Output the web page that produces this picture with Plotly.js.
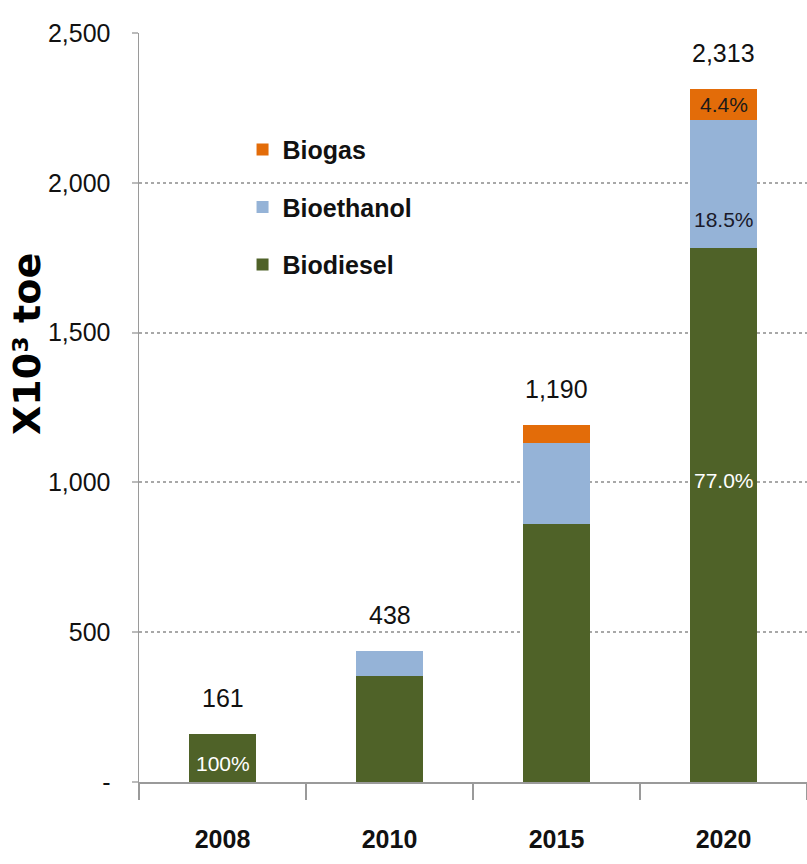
<!DOCTYPE html>
<html>
<head>
<meta charset="utf-8">
<script src="https://cdn.plot.ly/plotly-3.0.1.min.js"></script>
<style>html,body{margin:0;padding:0;background:#fff;}</style>
</head>
<body>
<div id="chart" style="width:807px;height:864px;"></div>
<script>
const years = ['2008', '2010', '2015', '2020'];
const biodiesel = [161, 355, 860, 1782];
const bioethanol = [0, 83, 272, 429];
const biogas = [0, 0, 58, 102];
const totalLabels = ['161', '438', '1,190', '2,313'];
const yTickVals = [0, 500, 1000, 1500, 2000, 2500];
const yTickText = ['-', '500', '1,000', '1,500', '2,000', '2,500'];
const pctLabels = [
  {i: 0, series: 'biodiesel', text: '100%'},
  {i: 3, series: 'biodiesel', text: '77.0%'},
  {i: 3, series: 'bioethanol', text: '18.5%'},
  {i: 3, series: 'biogas', text: '4.4%'}
];

const FONT = '"Liberation Sans", Arial, sans-serif';

const traces = [
  {type: 'bar', name: 'Biodiesel', x: years, y: biodiesel, marker: {color: '#4F6228'}, legendgroup: 'c', legendrank: 3, hoverinfo: 'skip'},
  {type: 'bar', name: 'Bioethanol', x: years, y: bioethanol, marker: {color: '#95B3D7'}, legendgroup: 'b', legendrank: 2, hoverinfo: 'skip'},
  {type: 'bar', name: 'Biogas', x: years, y: biogas, marker: {color: '#E36C09'}, legendgroup: 'a', legendrank: 1, hoverinfo: 'skip'}
];

const annotations = [];
years.forEach((yr, i) => {
  const tot = biodiesel[i] + bioethanol[i] + biogas[i];
  annotations.push({
    x: i, y: tot, xref: 'x', yref: 'y', text: totalLabels[i], showarrow: false,
    yanchor: 'bottom', yshift: 20, font: {family: FONT, size: 25, color: '#111'}
  });
});
const frac = {biodiesel: [0.39, 0, 0, 0.564], bioethanol: [0, 0, 0, 0.22], biogas: [0, 0, 0, 0.5]};
pctLabels.forEach(p => {
  let base = 0, seg = 0, col = '#fff';
  if (p.series === 'biodiesel') { base = 0; seg = biodiesel[p.i]; col = '#ffffff'; }
  if (p.series === 'bioethanol') { base = biodiesel[p.i]; seg = bioethanol[p.i]; col = '#1a1a2a'; }
  if (p.series === 'biogas') { base = biodiesel[p.i] + bioethanol[p.i]; seg = biogas[p.i]; col = '#1a1a1a'; }
  annotations.push({
    x: p.i, y: base + seg * frac[p.series][p.i], xref: 'x', yref: 'y', text: p.text,
    showarrow: false, font: {family: FONT, size: 21, color: col}
  });
});
annotations.push({
  xref: 'paper', yref: 'paper', x: -0.172, xshift: -21, y: 0.585, text: 'X10³ toe', textangle: -90,
  showarrow: false, font: {family: '"DejaVu Sans", Verdana, sans-serif', size: 38, color: '#000', weight: 'bold'}
});

const layout = {
  width: 807, height: 864,
  margin: {l: 139, r: 0, t: 33, b: 82},
  paper_bgcolor: '#fff', plot_bgcolor: '#fff',
  barmode: 'stack', bargap: 0.6,
  showlegend: true,
  legend: {
    x: 0.155, y: 0.875, xanchor: 'left', yanchor: 'top',
    traceorder: 'grouped', tracegroupgap: 22,
    font: {family: FONT, size: 25, color: '#111', weight: 'bold'},
    bgcolor: 'rgba(0,0,0,0)'
  },
  xaxis: {
    type: 'category', range: [-0.5, 3.5], showline: true, linecolor: '#9a9a9a', linewidth: 2,
    ticks: 'outside', tickson: 'boundaries', ticklen: 16, tickcolor: '#9a9a9a', tickwidth: 1.5,
    showgrid: false, zeroline: false,
    tickfont: {family: FONT, size: 25, color: '#111', weight: 'bold'},
    ticklabelstandoff: 34
  },
  yaxis: {
    range: [0, 2500], tickvals: yTickVals, ticktext: yTickText,
    showline: true, linecolor: '#9a9a9a', linewidth: 1.5,
    ticks: 'outside', ticklen: 6, tickcolor: '#bbbbbb', tickwidth: 2,
    showgrid: true, gridcolor: '#a8a8a8', griddash: 'dot', gridwidth: 2,
    zeroline: false,
    tickfont: {family: FONT, size: 25, color: '#111'},
    ticklabelstandoff: 16
  },
  annotations: annotations
};

Plotly.newPlot('chart', traces, layout, {staticPlot: true, displayModeBar: false});
</script>
</body>
</html>
